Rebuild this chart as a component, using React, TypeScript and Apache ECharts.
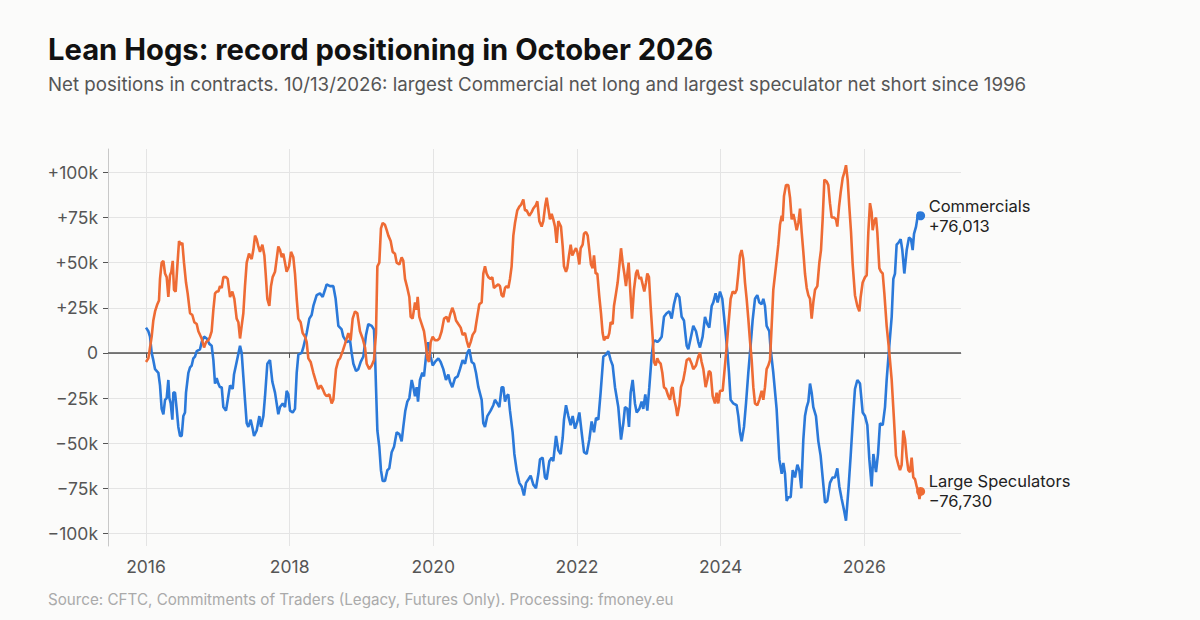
import React, { useEffect, useRef } from "react";
import * as echarts from "echarts";

// Net positions (thousands of contracts), weekly COT readings, time in decimal years
const commercialsYear = [
  2016.0, 2016.033, 2016.056, 2016.079, 2016.102, 2016.126, 2016.172, 2016.195, 2016.218, 2016.242,
  2016.265, 2016.288, 2016.311, 2016.325, 2016.344, 2016.367, 2016.381, 2016.404, 2016.427, 2016.45,
  2016.474, 2016.497, 2016.52, 2016.543, 2016.557, 2016.59, 2016.613, 2016.636, 2016.659, 2016.682,
  2016.706, 2016.752, 2016.775, 2016.808, 2016.845, 2016.882, 2016.914, 2016.938, 2016.961, 2016.984,
  2017.007, 2017.03, 2017.054, 2017.077, 2017.114, 2017.146, 2017.17, 2017.207, 2017.225, 2017.262,
  2017.309, 2017.332, 2017.355, 2017.378, 2017.402, 2017.425, 2017.457, 2017.485, 2017.504, 2017.541,
  2017.578, 2017.601, 2017.634, 2017.657, 2017.689, 2017.726, 2017.759, 2017.796, 2017.842, 2017.866,
  2017.903, 2017.935, 2017.958, 2017.982, 2018.005, 2018.042, 2018.074, 2018.098, 2018.121, 2018.167,
  2018.19, 2018.237, 2018.274, 2018.306, 2018.33, 2018.376, 2018.422, 2018.46, 2018.492, 2018.515,
  2018.562, 2018.608, 2018.64, 2018.678, 2018.724, 2018.747, 2018.794, 2018.84, 2018.863, 2018.887,
  2018.924, 2018.956, 2018.989, 2019.026, 2019.063, 2019.095, 2019.142, 2019.174, 2019.188, 2019.202,
  2019.221, 2019.248, 2019.271, 2019.295, 2019.327, 2019.36, 2019.387, 2019.42, 2019.453, 2019.49,
  2019.527, 2019.559, 2019.582, 2019.61, 2019.638, 2019.666, 2019.699, 2019.722, 2019.745, 2019.768,
  2019.787, 2019.814, 2019.847, 2019.87, 2019.898, 2019.93, 2019.963, 2019.991, 2020.023, 2020.07,
  2020.102, 2020.139, 2020.176, 2020.209, 2020.232, 2020.264, 2020.302, 2020.339, 2020.371, 2020.408,
  2020.441, 2020.473, 2020.501, 2020.534, 2020.566, 2020.594, 2020.627, 2020.673, 2020.696, 2020.719,
  2020.752, 2020.798, 2020.835, 2020.858, 2020.891, 2020.919, 2020.951, 2020.974, 2020.998, 2021.021,
  2021.044, 2021.067, 2021.104, 2021.128, 2021.16, 2021.197, 2021.23, 2021.262, 2021.29, 2021.323,
  2021.355, 2021.392, 2021.429, 2021.462, 2021.485, 2021.522, 2021.554, 2021.578, 2021.615, 2021.647,
  2021.67, 2021.708, 2021.74, 2021.773, 2021.801, 2021.819, 2021.847, 2021.88, 2021.912, 2021.94,
  2021.972, 2022.005, 2022.033, 2022.065, 2022.098, 2022.135, 2022.172, 2022.204, 2022.237, 2022.265,
  2022.297, 2022.329, 2022.367, 2022.404, 2022.436, 2022.469, 2022.497, 2022.529, 2022.575, 2022.613,
  2022.645, 2022.668, 2022.701, 2022.724, 2022.747, 2022.775, 2022.807, 2022.831, 2022.868, 2022.9,
  2022.923, 2022.951, 2022.979, 2023.007, 2023.039, 2023.063, 2023.086, 2023.118, 2023.146, 2023.179,
  2023.211, 2023.248, 2023.285, 2023.318, 2023.35, 2023.387, 2023.425, 2023.457, 2023.489, 2023.527,
  2023.55, 2023.582, 2023.619, 2023.657, 2023.689, 2023.712, 2023.749, 2023.782, 2023.814, 2023.842,
  2023.875, 2023.898, 2023.93, 2023.958, 2023.991, 2024.023, 2024.06, 2024.093, 2024.116, 2024.139,
  2024.176, 2024.223, 2024.246, 2024.269, 2024.292, 2024.325, 2024.353, 2024.385, 2024.417, 2024.445,
  2024.478, 2024.51, 2024.538, 2024.571, 2024.594, 2024.617, 2024.64, 2024.677, 2024.696, 2024.733,
  2024.779, 2024.817, 2024.85, 2024.873, 2024.896, 2024.919, 2024.942, 2024.975, 2025.003, 2025.035,
  2025.068, 2025.095, 2025.123, 2025.151, 2025.174, 2025.198, 2025.221, 2025.244, 2025.267, 2025.29,
  2025.327, 2025.36, 2025.392, 2025.42, 2025.453, 2025.485, 2025.522, 2025.559, 2025.592, 2025.624,
  2025.652, 2025.685, 2025.717, 2025.745, 2025.778, 2025.81, 2025.847, 2025.87, 2025.903, 2025.94,
  2025.977, 2026.01, 2026.042, 2026.07, 2026.102, 2026.126, 2026.163, 2026.191, 2026.218, 2026.256,
  2026.288, 2026.311, 2026.348, 2026.381, 2026.404, 2026.427, 2026.45, 2026.474, 2026.506, 2026.529,
  2026.557, 2026.59, 2026.622, 2026.65, 2026.673, 2026.692, 2026.72, 2026.752, 2026.784,
];
const commercialsNetK = [
  14, 12, 9, 0, -4, -9, -11, -18, -31, -34,
  -26, -25, -15, -25, -28, -37, -22, -22, -31, -41,
  -46, -46, -35, -33, -22, -11, -8, -7, -3, -2,
  1, 2, 6, 9, 8, 5, 4, -4, -17, -14,
  -17, -19, -19, -30, -32, -24, -18, -20, -12, -5,
  4, 0, -13, -26, -39, -41, -37, -42, -46, -43,
  -35, -41, -35, -24, -6, -4, -16, -22, -34, -30,
  -28, -30, -21, -23, -32, -33, -31, -11, -1, 0,
  3, 11, 19, 21, 26, 32, 33, 31, 35, 38,
  37, 37, 30, 15, 13, 9, 6, 7, 0, -6,
  -10, -9, -5, -2, 10, 16, 15, 13, 0, -19,
  -43, -52, -65, -71, -71, -65, -64, -55, -52, -44,
  -45, -49, -41, -32, -27, -25, -15, -19, -24, -19,
  -27, -15, -11, -13, -2, 6, -2, -7, -5, -3,
  -5, -9, -15, -12, -16, -19, -14, -13, -9, -4,
  -6, 0, 2, -5, -6, -11, -19, -26, -39, -41,
  -35, -32, -29, -26, -28, -30, -19, -19, -27, -24,
  -23, -32, -44, -56, -65, -72, -74, -79, -72, -70,
  -68, -73, -75, -67, -59, -58, -69, -70, -60, -58,
  -60, -46, -54, -56, -47, -37, -29, -35, -40, -35,
  -42, -38, -33, -44, -55, -56, -48, -38, -44, -36,
  -37, -22, -2, -1, 1, -4, -7, -19, -30, -48,
  -39, -30, -31, -41, -22, -15, -28, -33, -31, -27,
  -31, -23, -32, -19, -2, 6, 7, 6, 7, 9,
  20, 22, 23, 19, 27, 33, 31, 20, 18, 4,
  2, 8, 15, 12, 6, 3, 9, 20, 16, 14,
  26, 28, 33, 28, 34, 30, 15, 1, -11, -26,
  -28, -29, -35, -44, -49, -41, -28, -11, 4, 18,
  30, 32, 28, 27, 30, 26, 15, 12, 2, -11,
  -31, -59, -67, -61, -67, -82, -80, -80, -65, -69,
  -62, -65, -75, -48, -35, -30, -27, -17, -22, -30,
  -35, -49, -57, -69, -83, -82, -72, -69, -69, -64,
  -74, -81, -87, -93, -76, -57, -33, -20, -15, -17,
  -33, -35, -40, -59, -74, -56, -66, -56, -39, -40,
  -30, -15, 4, 20, 41, 44, 60, 61, 63, 57,
  44, 57, 64, 63, 57, 66, 70, 78, 76.013,
];

const speculatorsYear = [
  2016.0, 2016.033, 2016.056, 2016.079, 2016.102, 2016.126, 2016.158, 2016.181, 2016.195, 2016.218,
  2016.242, 2016.265, 2016.288, 2016.311, 2016.334, 2016.353, 2016.372, 2016.39, 2016.413, 2016.436,
  2016.46, 2016.483, 2016.506, 2016.529, 2016.557, 2016.58, 2016.613, 2016.645, 2016.673, 2016.706,
  2016.729, 2016.775, 2016.808, 2016.836, 2016.868, 2016.891, 2016.914, 2016.938, 2016.961, 2016.984,
  2017.007, 2017.03, 2017.054, 2017.077, 2017.114, 2017.137, 2017.17, 2017.202, 2017.23, 2017.262,
  2017.286, 2017.309, 2017.332, 2017.355, 2017.378, 2017.402, 2017.434, 2017.471, 2017.494, 2017.518,
  2017.541, 2017.564, 2017.587, 2017.62, 2017.648, 2017.666, 2017.689, 2017.717, 2017.74, 2017.763,
  2017.796, 2017.819, 2017.842, 2017.866, 2017.889, 2017.912, 2017.935, 2017.958, 2017.991, 2018.019,
  2018.051, 2018.074, 2018.098, 2018.121, 2018.153, 2018.181, 2018.214, 2018.237, 2018.26, 2018.292,
  2018.33, 2018.367, 2018.399, 2018.432, 2018.46, 2018.492, 2018.515, 2018.552, 2018.585, 2018.608,
  2018.645, 2018.678, 2018.701, 2018.738, 2018.771, 2018.817, 2018.849, 2018.877, 2018.91, 2018.942,
  2018.979, 2019.016, 2019.049, 2019.072, 2019.109, 2019.142, 2019.174, 2019.202, 2019.221, 2019.248,
  2019.271, 2019.295, 2019.327, 2019.351, 2019.374, 2019.406, 2019.434, 2019.466, 2019.49, 2019.527,
  2019.559, 2019.582, 2019.606, 2019.638, 2019.666, 2019.685, 2019.712, 2019.745, 2019.768, 2019.782,
  2019.805, 2019.838, 2019.87, 2019.898, 2019.916, 2019.94, 2019.963, 2019.991, 2020.023, 2020.056,
  2020.084, 2020.116, 2020.149, 2020.186, 2020.209, 2020.232, 2020.264, 2020.292, 2020.316, 2020.348,
  2020.381, 2020.408, 2020.441, 2020.464, 2020.492, 2020.52, 2020.547, 2020.58, 2020.603, 2020.64,
  2020.673, 2020.696, 2020.719, 2020.742, 2020.766, 2020.798, 2020.821, 2020.844, 2020.872, 2020.905,
  2020.928, 2020.951, 2020.974, 2020.998, 2021.021, 2021.044, 2021.067, 2021.09, 2021.114, 2021.137,
  2021.169, 2021.197, 2021.22, 2021.253, 2021.276, 2021.299, 2021.336, 2021.369, 2021.392, 2021.429,
  2021.448, 2021.476, 2021.508, 2021.531, 2021.559, 2021.578, 2021.601, 2021.624, 2021.647, 2021.67,
  2021.694, 2021.717, 2021.74, 2021.777, 2021.801, 2021.819, 2021.847, 2021.865, 2021.889, 2021.912,
  2021.935, 2021.958, 2021.986, 2022.005, 2022.033, 2022.051, 2022.079, 2022.097, 2022.125, 2022.149,
  2022.172, 2022.195, 2022.218, 2022.237, 2022.26, 2022.283, 2022.311, 2022.334, 2022.357, 2022.376,
  2022.404, 2022.427, 2022.45, 2022.469, 2022.497, 2022.515, 2022.543, 2022.566, 2022.589, 2022.613,
  2022.636, 2022.659, 2022.682, 2022.705, 2022.719, 2022.738, 2022.766, 2022.793, 2022.821, 2022.84,
  2022.868, 2022.891, 2022.914, 2022.937, 2022.961, 2022.979, 2023.002, 2023.025, 2023.053, 2023.072,
  2023.095, 2023.118, 2023.141, 2023.165, 2023.188, 2023.211, 2023.239, 2023.272, 2023.295, 2023.318,
  2023.332, 2023.355, 2023.378, 2023.397, 2023.425, 2023.448, 2023.48, 2023.503, 2023.527, 2023.564,
  2023.596, 2023.619, 2023.657, 2023.689, 2023.712, 2023.735, 2023.759, 2023.791, 2023.814, 2023.837,
  2023.861, 2023.889, 2023.921, 2023.944, 2023.967, 2023.991, 2024.028, 2024.06, 2024.083, 2024.107,
  2024.139, 2024.167, 2024.199, 2024.223, 2024.246, 2024.269, 2024.292, 2024.315, 2024.339, 2024.362,
  2024.385, 2024.408, 2024.432, 2024.455, 2024.478, 2024.51, 2024.538, 2024.571, 2024.594, 2024.617,
  2024.64, 2024.663, 2024.687, 2024.71, 2024.733, 2024.77, 2024.803, 2024.826, 2024.85, 2024.863,
  2024.882, 2024.91, 2024.942, 2024.966, 2024.989, 2025.012, 2025.035, 2025.058, 2025.082, 2025.105,
  2025.128, 2025.151, 2025.174, 2025.198, 2025.221, 2025.244, 2025.267, 2025.29, 2025.314, 2025.346,
  2025.374, 2025.397, 2025.42, 2025.444, 2025.476, 2025.499, 2025.522, 2025.546, 2025.578, 2025.606,
  2025.624, 2025.648, 2025.671, 2025.699, 2025.722, 2025.745, 2025.768, 2025.791, 2025.815, 2025.838,
  2025.87, 2025.903, 2025.931, 2025.949, 2025.977, 2026.01, 2026.033, 2026.056, 2026.079, 2026.102,
  2026.116, 2026.139, 2026.163, 2026.181, 2026.209, 2026.232, 2026.256, 2026.279, 2026.311, 2026.344,
  2026.381, 2026.413, 2026.441, 2026.474, 2026.497, 2026.52, 2026.543, 2026.567, 2026.59, 2026.613,
  2026.636, 2026.659, 2026.682, 2026.706, 2026.729, 2026.752, 2026.768, 2026.784,
];
const speculatorsNetK = [
  -5, -3, 3, 9, 18, 23, 27, 29, 41, 50,
  51, 44, 42, 31, 43, 45, 51, 35, 34, 48,
  62, 60, 61, 50, 39, 33, 22, 21, 17, 16,
  12, 8, 3, 6, 7, 9, 12, 24, 33, 34,
  34, 37, 36, 42, 42, 41, 31, 34, 30, 19,
  17, 8, 15, 22, 37, 50, 55, 52, 57, 65,
  63, 59, 56, 60, 54, 44, 30, 26, 37, 42,
  45, 52, 59, 57, 53, 55, 50, 45, 48, 56,
  53, 44, 30, 19, 17, 11, 9, 6, -3, -5,
  -11, -16, -20, -18, -20, -23, -24, -23, -28, -26,
  -9, -4, -3, 1, 5, 11, 7, 19, 23, 22,
  12, 8, 3, -6, -9, -7, -4, 11, 48, 50,
  69, 72, 71, 68, 65, 62, 56, 55, 50, 49,
  53, 51, 41, 36, 31, 20, 19, 28, 24, 31,
  20, 16, 12, 4, -3, -5, 6, 9, 7, 7,
  8, 12, 19, 20, 17, 21, 25, 22, 18, 16,
  14, 10, 11, 7, 3, 6, 10, 12, 18, 27,
  28, 44, 48, 44, 42, 41, 42, 36, 37, 38,
  37, 32, 31, 36, 37, 36, 41, 48, 65, 72,
  79, 81, 82, 85, 79, 79, 76, 78, 80, 82,
  84, 73, 70, 73, 82, 86, 80, 74, 77, 74,
  70, 61, 73, 70, 59, 48, 45, 47, 54, 60,
  54, 56, 58, 56, 49, 58, 60, 66, 67, 65,
  57, 49, 47, 54, 44, 44, 31, 22, 11, 7,
  9, 8, 11, 17, 16, 26, 33, 39, 48, 58,
  50, 44, 37, 45, 50, 37, 19, 35, 44, 46,
  41, 42, 38, 34, 39, 44, 42, 26, 9, -5,
  -7, -3, -5, -6, -11, -19, -20, -24, -26, -20,
  -19, -26, -30, -35, -29, -19, -15, -10, -4, -3,
  -6, -9, -7, -2, 0, -5, -9, -19, -15, -10,
  -11, -24, -28, -22, -28, -21, -21, -7, 3, 15,
  30, 34, 33, 35, 44, 54, 57, 52, 39, 30,
  19, 7, -4, -19, -28, -29, -26, -21, -26, -19,
  -9, -7, -4, 15, 35, 48, 60, 71, 76, 73,
  87, 93, 93, 86, 74, 77, 73, 68, 72, 80,
  67, 56, 44, 36, 32, 30, 19, 28, 35, 37,
  50, 57, 74, 96, 95, 93, 83, 75, 75, 74,
  70, 81, 89, 97, 100, 104, 96, 81, 67, 49,
  32, 26, 23, 31, 39, 42, 43, 67, 83, 78,
  68, 73, 75, 67, 47, 45, 44, 33, 15, 2,
  -15, -37, -57, -62, -65, -62, -43, -48, -58, -65,
  -66, -58, -69, -70, -74, -77, -81, -76.73,
];

const yearTicks = [2016, 2018, 2020, 2022, 2024, 2026];
const positionTicksK = [-100, -75, -50, -25, 0, 25, 50, 75, 100];

const BLUE = "#2b79d9";
const ORANGE = "#ee6b34";
const FONT = "Inter, 'Noto Sans', sans-serif";

const pair = (xs: number[], ys: number[]) => xs.map((x, i) => [x, ys[i]]);

const fmtContracts = (k: number) => {
  const n = Math.round(k * 1000);
  const s = Math.abs(n).toLocaleString("en-US");
  return (n >= 0 ? "+" : "\u2212") + s;
};

export default function App() {
  const ref = useRef<HTMLDivElement>(null);

  useEffect(() => {
    if (!ref.current) return;
    const chart = echarts.init(ref.current, null, { renderer: "svg" });

    const comm = pair(commercialsYear, commercialsNetK);
    const spec = pair(speculatorsYear, speculatorsNetK);
    const commLast = comm[comm.length - 1];
    const specLast = spec[spec.length - 1];

    chart.setOption({
      animation: false,
      backgroundColor: "#fbfbfa",
      textStyle: { fontFamily: FONT },
      title: [
        {
          text: "Lean Hogs: record positioning in October 2026",
          left: 48,
          top: 35,
          padding: 0,
          textStyle: { fontFamily: FONT, fontSize: 29.2, fontWeight: 700, color: "#111" },
        },
        {
          text:
            "Net positions in contracts. 10/13/2026: largest Commercial net long and largest speculator net short since 1996",
          left: 48,
          top: 75,
          padding: 0,
          textStyle: { fontFamily: FONT, fontSize: 18.7, fontWeight: 400, color: "#555" },
        },
        {
          text: "Source: CFTC, Commitments of Traders (Legacy, Futures Only). Processing: fmoney.eu",
          left: 48,
          top: 592,
          padding: 0,
          textStyle: { fontFamily: FONT, fontSize: 15.2, fontWeight: 400, color: "#aaa" },
        },
      ],
      grid: { left: 108, right: 239, top: 149, bottom: 74 },
      xAxis: {
        type: "value",
        min: 2015.471,
        max: 2027.346,
        axisLine: { show: true, lineStyle: { color: "#c8c8c8", width: 1 } },
        axisTick: { show: true, length: 5, customValues: yearTicks, lineStyle: { color: "#555" } },
        axisLabel: {
          customValues: yearTicks,
          formatter: (v: number) => String(v),
          color: "#555",
          fontSize: 17.5,
          margin: 11,
          fontFamily: FONT,
        },
        splitLine: { show: true, lineStyle: { color: "#e4e4e4", width: 1 } },
      },
      yAxis: {
        type: "value",
        min: -107,
        max: 113,
        axisLine: { show: true, lineStyle: { color: "#c8c8c8", width: 1 } },
        axisTick: { show: true, length: 5, customValues: positionTicksK, lineStyle: { color: "#555" } },
        axisLabel: {
          customValues: positionTicksK,
          formatter: (v: number) => (v === 0 ? "0" : v > 0 ? `+${v}k` : `\u2212${-v}k`),
          color: "#555",
          fontSize: 17.5,
          margin: 10,
          fontFamily: FONT,
        },
        splitLine: { show: true, lineStyle: { color: "#e4e4e4", width: 1 } },
      },
      series: [
        {
          name: "Commercials",
          type: "line",
          data: comm,
          showSymbol: false,
          lineStyle: { color: BLUE, width: 2.6 },
          itemStyle: { color: BLUE },
          z: 3,
          markLine: {
            silent: true,
            symbol: "none",
            label: { show: false },
            lineStyle: { color: "#555", width: 1.5, type: "solid" },
            data: [{ yAxis: 0 }],
            z: 1,
          },
          markPoint: {
            symbol: "circle",
            symbolSize: 9,
            label: { show: false },
            itemStyle: { color: BLUE },
            data: [{ coord: commLast }],
          },
          endLabel: {
            show: true,
            formatter: () => `Commercials\n${fmtContracts(commLast[1])}`,
            color: "#222",
            fontSize: 16.5,
            lineHeight: 20,
            distance: 8,
            fontFamily: FONT,
          },
        },
        {
          name: "Large Speculators",
          type: "line",
          data: spec,
          showSymbol: false,
          lineStyle: { color: ORANGE, width: 2.6 },
          itemStyle: { color: ORANGE },
          z: 4,
          markPoint: {
            symbol: "circle",
            symbolSize: 9,
            label: { show: false },
            itemStyle: { color: ORANGE },
            data: [{ coord: specLast }],
          },
          endLabel: {
            show: true,
            formatter: () => `Large Speculators\n${fmtContracts(specLast[1])}`,
            color: "#222",
            fontSize: 16.5,
            lineHeight: 20,
            distance: 8,
            fontFamily: FONT,
          },
        },
      ],
    });

    return () => chart.dispose();
  }, []);

  return (
    <div
      ref={ref}
      style={{ position: "fixed", left: 0, top: 0, width: 1200, height: 620, background: "#fbfbfa" }}
    />
  );
}
